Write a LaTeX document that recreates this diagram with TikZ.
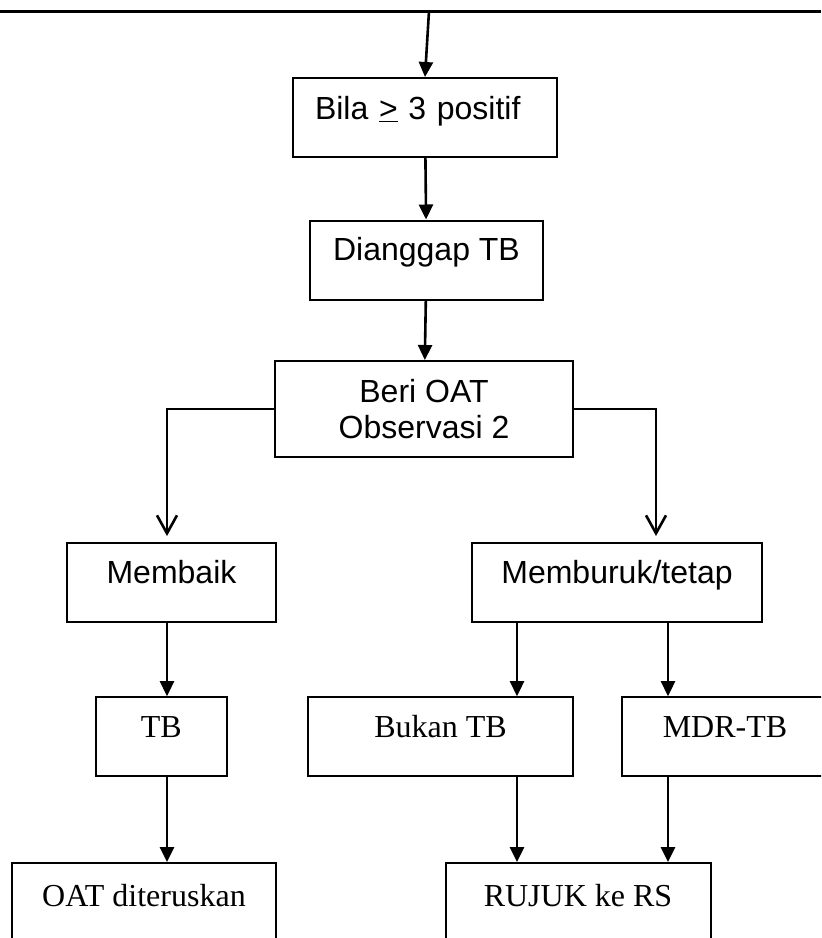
\documentclass[tikz,border=0pt]{standalone}
\usepackage{fontspec}
\setmainfont{Liberation Serif}
\setsansfont{Liberation Sans}
\usepackage{tikz}
\usetikzlibrary{arrows.meta}

\begin{document}
\begin{tikzpicture}[x=0.5pt,y=-0.5pt,line width=1pt,
    box/.style={draw,inner sep=0pt},
    lined/.style={text height=20pt,text depth=19.5pt},
    sans/.style={font=\sffamily\fontsize{16}{18}\selectfont},
    serif/.style={font=\rmfamily\fontsize{16}{18}\selectfont},
    arr/.style={line width=1.3pt,-{Triangle[length=7.5pt,width=7pt]}},
    barb/.style={line width=1.3pt,-{Straight Barb[length=9pt,width=10pt]},shorten >=3pt}]
    \useasboundingbox (0,0) rectangle (821,938);
    \clip (0,0) rectangle (821,938);

    % Columns of the lower arrows
    \coordinate (lcol) at (167,0);
    \coordinate (mcol) at (517,0);
    \coordinate (rcol) at (656,0);
    \coordinate (fcol) at (668,0);

    % Upper boxes
    \draw[line width=1.5pt] (0,11) -- (821,11);
    \coordinate (top) at (429,11);
    \node[box,sans,align=left,text width=110pt,inner xsep=11pt,
      text height=20.5pt,text depth=19pt] (bila) at (425,117.5)
      {Bila \underline{>} 3 positif};
    \node[box,lined,sans,minimum width=116.5pt] (anggap) at (426.5,260) {Dianggap TB};
    \node[box,sans,align=center,minimum width=149pt,minimum height=48pt]
      (beri) at (424,409) {Beri OAT\\Observasi 2};

    % Outcome
    \node[box,lined,sans,minimum width=104.5pt] (baik) at (171.5,582.5) {Membaik};
    \node[box,lined,sans,minimum width=145pt] (buruk) at (617,582.5) {Memburuk/tetap};

    % Diagnosis
    \node[box,lined,serif,minimum width=65.5pt] (tb) at (161.2,736.7) {TB};
    \node[box,lined,serif,minimum width=132.5pt] (bukan) at (440.5,736.7) {Bukan TB};
    \node[box,lined,serif,minimum width=103pt] (mdr) at (725,736.7) {MDR-TB};

    % Action
    \node[box,serif,minimum width=132.25pt,text height=21.5pt,text depth=18.5pt]
      (lanjut) at (144,903) {OAT diteruskan};
    \node[box,serif,minimum width=132.5pt,text height=21.5pt,text depth=18.5pt]
      (rujuk) at (578,903) {RUJUK ke RS};

    % Arrows
    \draw[arr] (top) -- (bila.north);
    \draw[arr] (bila) -- (anggap);
    \draw[arr] (anggap) -- (beri);
    \draw[barb] (beri.west) -| (baik.north -| lcol);
    \draw[barb] (beri.east) -| (buruk.north -| rcol);
    \draw[arr] (baik.south -| lcol) -- (tb.north -| lcol);
    \draw[arr] (buruk.south -| mcol) -- (bukan.north -| mcol);
    \draw[arr] (buruk.south -| fcol) -- (mdr.north -| fcol);
    \draw[arr] (tb.south -| lcol) -- (lanjut.north -| lcol);
    \draw[arr] (bukan.south -| mcol) -- (rujuk.north -| mcol);
    \draw[arr] (mdr.south -| fcol) -- (rujuk.north -| fcol);
\end{tikzpicture}
\end{document}
